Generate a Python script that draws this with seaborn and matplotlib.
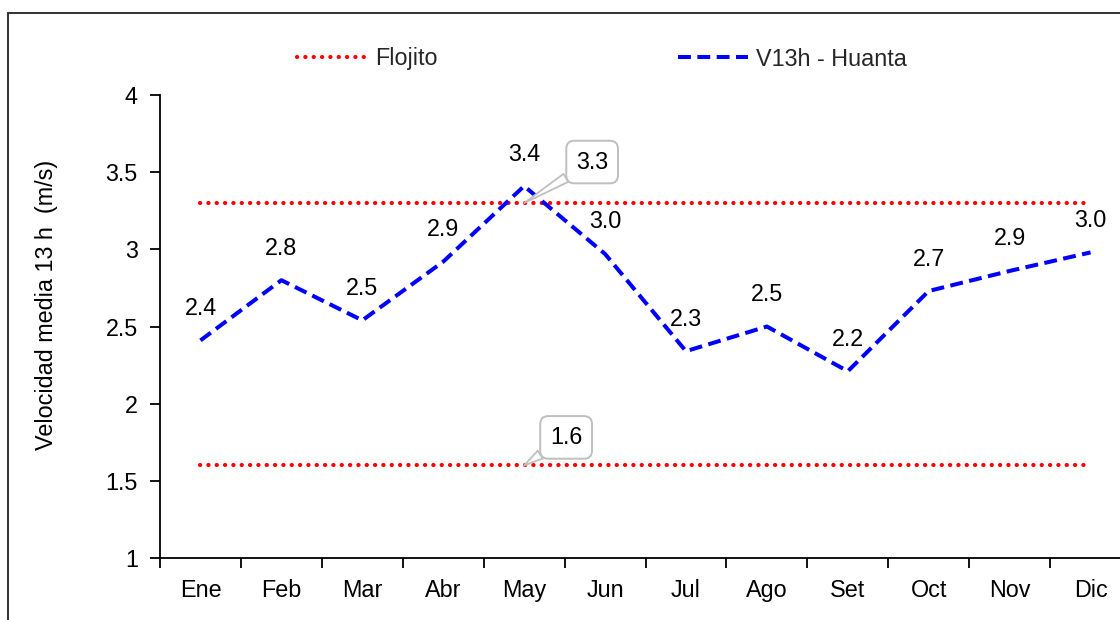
import matplotlib
matplotlib.use("Agg")
import matplotlib.pyplot as plt
from matplotlib.patches import Rectangle
import numpy as np
import pandas as pd
import seaborn as sns

# Monthly mean wind speed at 13 h, Huanta station
months = ["Ene", "Feb", "Mar", "Abr", "May", "Jun", "Jul", "Ago", "Set", "Oct", "Nov", "Dic"]
v13h_huanta = [2.41, 2.80, 2.54, 2.92, 3.41, 2.97, 2.34, 2.50, 2.21, 2.73, 2.86, 2.98]
# "Flojito" wind class bounds (m/s)
flojito_upper = [3.3] * 12
flojito_lower = [1.6] * 12
y_ticks = [1, 1.5, 2, 2.5, 3, 3.5, 4]

sns.set_theme(style="white")
plt.rcParams["font.family"] = ["Liberation Sans", "DejaVu Sans"]
FS = 16.8

x = np.arange(len(months))
df_v = pd.DataFrame({"x": x, "v": v13h_huanta})
df_up = pd.DataFrame({"x": x, "v": flojito_upper})
df_lo = pd.DataFrame({"x": x, "v": flojito_lower})

W, H, DPI = 1120, 620, 100
fig = plt.figure(figsize=(W / DPI, H / DPI), dpi=DPI)
ax = fig.add_axes([160 / W, 62 / H, 971 / W, 463 / H])

dot_style = (0, (0.05, 1.95))
sns.lineplot(data=df_up, x="x", y="v", ax=ax, color="#ff0000", lw=3.0,
             linestyle=dot_style, dash_capstyle="round", label="Flojito")
sns.lineplot(data=df_lo, x="x", y="v", ax=ax, color="#ff0000", lw=3.0,
             linestyle=dot_style, dash_capstyle="round", label="_nolegend_")
sns.lineplot(data=df_v, x="x", y="v", ax=ax, color="#0000ff", lw=2.9,
             linestyle=(0, (3.2, 1.6)), label="V13h - Huanta")

ax.set_xlim(-0.5, len(months) - 0.5)
ax.set_ylim(1, 4)
ax.set_yticks(y_ticks)
ax.set_yticklabels([f"{t:g}" for t in y_ticks])
ax.set_xticks(x)
ax.set_xticklabels(months)
ax.set_xticks(np.arange(-0.5, len(months)), minor=True)
ax.tick_params(axis="x", which="major", length=0, pad=15, labelsize=FS, colors="black")
ax.tick_params(axis="x", which="minor", length=7, width=1.3, direction="out", bottom=True, color="black")
ax.tick_params(axis="y", which="major", length=7, width=1.3, direction="out", left=True,
               pad=9, labelsize=FS, colors="black")
ax.set_xlabel("")
for s in ["top", "right"]:
    ax.spines[s].set_visible(False)
for s in ["left", "bottom"]:
    ax.spines[s].set_color("black")
    ax.spines[s].set_linewidth(1.3)

# value labels above each monthly point
for xi, v in zip(x, v13h_huanta):
    ax.annotate(f"{v:.1f}", (xi, v), xytext=(0, 32), textcoords="offset pixels",
                ha="center", va="center", fontsize=FS, color="black")

# callouts for the class bounds
callout_x = 4
for val, off in [(flojito_upper[callout_x], (68, 41)), (flojito_lower[callout_x], (42, 28))]:
    ax.annotate(f"{val:.1f}", (callout_x, val), xytext=off, textcoords="offset pixels",
                ha="center", va="center", fontsize=FS, color="black",
                bbox=dict(boxstyle="round,pad=0.42,rounding_size=0.35", fc="white",
                          ec="#bfbfbf", lw=1.4),
                arrowprops=dict(arrowstyle="wedge,tail_width=0.4", fc="white",
                                ec="#bfbfbf", lw=1.3, shrinkA=0, shrinkB=0))

if ax.legend_:
    ax.legend_.remove()
handles, labels = ax.get_legend_handles_labels()
fig.legend(handles, labels, loc="center", bbox_to_anchor=(602 / W, 1 - 59 / H),
           ncol=2, frameon=False, fontsize=FS, handlelength=3.0, handletextpad=0.34,
           columnspacing=10.3)

ax.set_ylabel("Velocidad media 13 h  (m/s)", fontsize=FS, color="black")
ax.yaxis.set_label_coords((58 - 160) / 971, (558 - 305) / 463)

# chart frame
fig.patches.append(Rectangle((7.5 / W, -0.1), 1.2, 1 - 12.5 / H + 0.1, transform=fig.transFigure,
                             fill=False, ec="#222222", lw=1.3))

fig.savefig("out.png", dpi=DPI)
